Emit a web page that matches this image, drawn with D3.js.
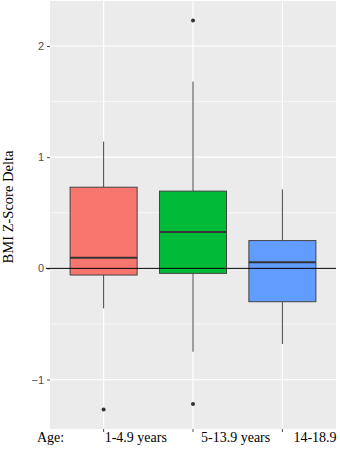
<!DOCTYPE html>
<html>
<head>
<meta charset="utf-8">
<script src="https://cdn.jsdelivr.net/npm/d3@7"></script>
<style>
  body { margin: 0; background: #fff; }
  svg { display: block; }
</style>
</head>
<body>
<svg id="chart" width="340" height="449"></svg>
<script>
// age groups and their box stats
const groups = ['1-4.9 years', '5-13.9 years', '14-18.9'];
const q1 = [-0.06, -0.045, -0.30];
const median = [0.096, 0.326, 0.054];
const q3 = [0.73, 0.695, 0.25];
const whiskerLow = [-0.36, -0.75, -0.68];
const whiskerHigh = [1.14, 1.68, 0.71];
const outliers = [[-1.27], [2.23, -1.22], []];
const fills = ['#F8766D', '#00BA38', '#619CFF'];
const yTicks = [-1, 0, 1, 2];
const yMinor = [-0.5, 0.5, 1.5];

const svg = d3.select('#chart');
const width = 340;
const height = 449;
const margin = { top: 1, right: 4, bottom: 20, left: 50 };
const panelW = width - margin.left - margin.right;
const panelH = height - margin.top - margin.bottom;

const g = svg.append('g')
  .attr('transform', `translate(${margin.left},${margin.top})`);

// ggplot style expansion: 5% on continuous, 0.6 on discrete
const allVals = [].concat(whiskerLow, whiskerHigh, ...outliers);
const lo = d3.min(allVals);
const hi = d3.max(allVals);
const pad = (hi - lo) * 0.05;
const y = d3.scaleLinear().domain([lo - pad, hi + pad]).range([panelH, 0]);
const xPos = d3.scaleLinear().domain([0.4, groups.length + 0.6]).range([0, panelW]);
const x = (i) => xPos(i + 1);
const boxW = xPos(1.75) - xPos(1);

g.append('rect')
  .attr('width', panelW)
  .attr('height', panelH)
  .attr('fill', '#EBEBEB');

// minor grid
g.selectAll('.minor')
  .data(yMinor)
  .enter()
  .append('line')
  .attr('x1', 0)
  .attr('x2', panelW)
  .attr('y1', (d) => y(d))
  .attr('y2', (d) => y(d))
  .attr('stroke', '#fff')
  .attr('stroke-width', 0.6);

// major grid
g.selectAll('.major')
  .data(yTicks)
  .enter()
  .append('line')
  .attr('x1', 0)
  .attr('x2', panelW)
  .attr('y1', (d) => y(d))
  .attr('y2', (d) => y(d))
  .attr('stroke', '#fff')
  .attr('stroke-width', 1.2);

g.selectAll('.vgrid')
  .data(groups)
  .enter()
  .append('line')
  .attr('x1', (d, i) => x(i))
  .attr('x2', (d, i) => x(i))
  .attr('y1', 0)
  .attr('y2', panelH)
  .attr('stroke', '#fff')
  .attr('stroke-width', 1.2);

// y axis
const yAxis = d3.axisLeft(y)
  .tickValues(yTicks)
  .tickFormat(d3.format('d'))
  .tickSize(3)
  .tickPadding(3);
const ya = g.append('g').call(yAxis);
ya.select('.domain').remove();
ya.selectAll('line').attr('stroke', '#4D4D4D');
ya.selectAll('text')
  .attr('fill', '#4D4D4D')
  .style('font-family', 'Liberation Sans, Arial, sans-serif')
  .style('font-size', '11px');

// x axis ticks only
const xa = g.append('g').attr('transform', `translate(0,${panelH})`);
xa.selectAll('line')
  .data(groups)
  .enter()
  .append('line')
  .attr('x1', (d, i) => x(i))
  .attr('x2', (d, i) => x(i))
  .attr('y1', 0)
  .attr('y2', 3)
  .attr('stroke', '#4D4D4D');

// boxes
const box = g.selectAll('.box')
  .data(groups)
  .enter()
  .append('g');

box.append('line')
  .attr('x1', (d, i) => x(i))
  .attr('x2', (d, i) => x(i))
  .attr('y1', (d, i) => y(whiskerHigh[i]))
  .attr('y2', (d, i) => y(q3[i]))
  .attr('stroke', '#444')
  .attr('stroke-width', 1);

box.append('line')
  .attr('x1', (d, i) => x(i))
  .attr('x2', (d, i) => x(i))
  .attr('y1', (d, i) => y(q1[i]))
  .attr('y2', (d, i) => y(whiskerLow[i]))
  .attr('stroke', '#444')
  .attr('stroke-width', 1);

box.append('rect')
  .attr('x', (d, i) => x(i) - boxW / 2)
  .attr('width', boxW)
  .attr('y', (d, i) => y(q3[i]))
  .attr('height', (d, i) => y(q1[i]) - y(q3[i]))
  .attr('fill', (d, i) => fills[i])
  .attr('stroke', '#444')
  .attr('stroke-width', 1);

box.append('line')
  .attr('x1', (d, i) => x(i) - boxW / 2)
  .attr('x2', (d, i) => x(i) + boxW / 2)
  .attr('y1', (d, i) => y(median[i]))
  .attr('y2', (d, i) => y(median[i]))
  .attr('stroke', '#333')
  .attr('stroke-width', 2);

box.selectAll('circle')
  .data((d, i) => outliers[i].map((v) => ({ i, v })))
  .enter()
  .append('circle')
  .attr('cx', (d) => x(d.i))
  .attr('cy', (d) => y(d.v))
  .attr('r', 2)
  .attr('fill', '#333');

// zero reference line
g.append('line')
  .attr('x1', -4)
  .attr('x2', panelW)
  .attr('y1', y(0))
  .attr('y2', y(0))
  .attr('stroke', '#000')
  .attr('stroke-width', 1);

// axis title
svg.append('text')
  .attr('transform', `translate(13,${margin.top + panelH / 2 - 8}) rotate(-90)`)
  .attr('text-anchor', 'middle')
  .style('font-family', 'Liberation Serif, Times New Roman, serif')
  .style('font-size', '14.5px')
  .attr('fill', '#000')
  .text('BMI Z-Score Delta');

// category labels row
const labelOffsets = [1, 8, 11];
const labelY = height - 7;
svg.append('text')
  .attr('x', 37)
  .attr('y', labelY)
  .style('font-family', 'Liberation Serif, Times New Roman, serif')
  .style('font-size', '14px')
  .attr('fill', '#000')
  .text('Age:');

svg.selectAll('.cat')
  .data(groups)
  .enter()
  .append('text')
  .attr('x', (d, i) => margin.left + x(i) + labelOffsets[i])
  .attr('y', labelY)
  .style('font-family', 'Liberation Serif, Times New Roman, serif')
  .style('font-size', '14px')
  .attr('fill', '#000')
  .text((d) => d);
</script>
</body>
</html>
